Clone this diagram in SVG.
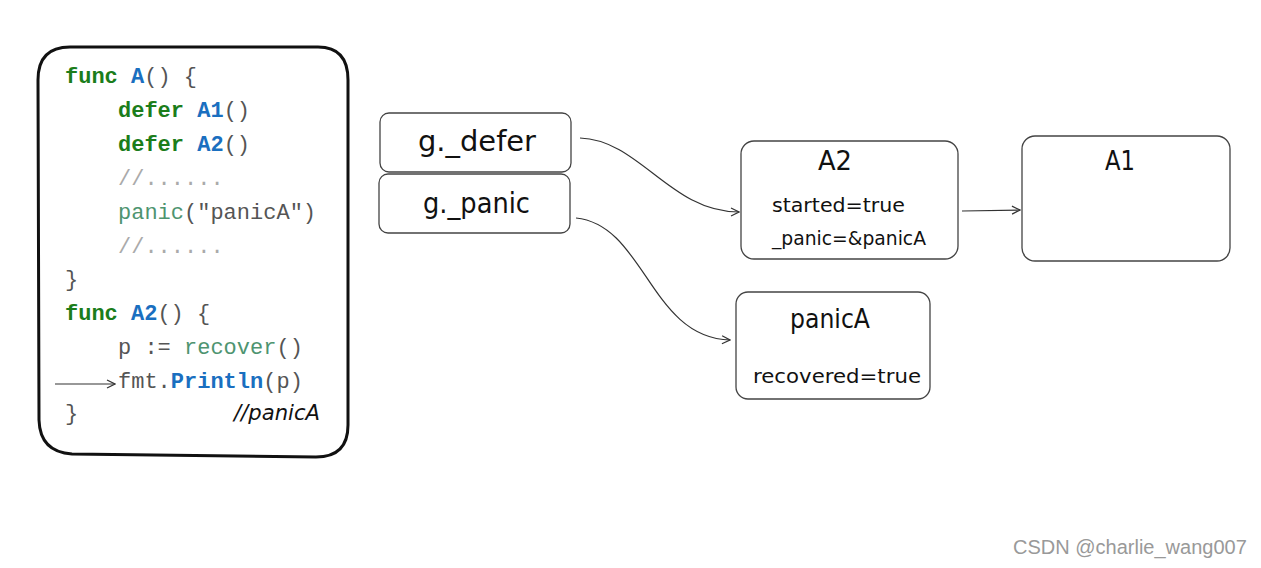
<svg xmlns="http://www.w3.org/2000/svg" width="1261" height="568" viewBox="0 0 1261 568">
<defs>
<style>
.code{font-family:"Liberation Mono","Courier New",monospace;font-size:22px;fill:#555}
.kw{fill:#1b7d1b;font-weight:bold}
.fn{fill:#1a6fc0;font-weight:bold}
.cm{fill:#aaa}
.rc{fill:#4e9470}
.hand{font-family:"DejaVu Sans","Liberation Sans",sans-serif;fill:#111}
.box{fill:#fff;stroke:#444;stroke-width:1.3}
.conn{fill:none;stroke:#333;stroke-width:1.2}
</style>
<marker id="arr" viewBox="0 0 10 10" refX="9" refY="5" markerWidth="10" markerHeight="10" markerUnits="userSpaceOnUse" orient="auto">
<path d="M1,1 L9,5 L1,9" fill="none" stroke="#333" stroke-width="1.2"/>
</marker>
</defs>
<rect width="1261" height="568" fill="#fff"/>

<g id="code-box">
<path d="M70,47 L318,47 Q348,47 348,80 L348,425 Q348,457 316,457 L72,454 Q40,452 39,420 L38,80 Q38,47 70,47 Z" fill="#fff" stroke="#111" stroke-width="3"/>
<text class="code" x="65" y="83"><tspan class="kw">func</tspan> <tspan class="fn">A</tspan>() {</text>
<text class="code" x="118" y="117"><tspan class="kw">defer</tspan> <tspan class="fn">A1</tspan>()</text>
<text class="code" x="118" y="151"><tspan class="kw">defer</tspan> <tspan class="fn">A2</tspan>()</text>
<text class="code cm" x="118" y="185">//......</text>
<text class="code" x="118" y="219"><tspan class="rc">panic</tspan>("panicA")</text>
<text class="code cm" x="118" y="253">//......</text>
<text class="code" x="65" y="286">}</text>
<text class="code" x="65" y="320"><tspan class="kw">func</tspan> <tspan class="fn">A2</tspan>() {</text>
<text class="code" x="118" y="354">p := <tspan class="rc">recover</tspan>()</text>
<text class="code" x="118" y="388">fmt.<tspan class="fn">Println</tspan>(p)</text>
<text class="code" x="65" y="420">}</text>
<text class="hand" x="234" y="420" font-size="21" font-style="italic" textLength="86" lengthAdjust="spacingAndGlyphs">//panicA</text>
<path class="conn" d="M55,384 L115,384" marker-end="url(#arr)"/>
</g>

<g id="g-defer">
<rect class="box" x="380" y="113" width="191" height="59" rx="9"/>
<text class="hand" x="418" y="151" font-size="28" textLength="118" lengthAdjust="spacingAndGlyphs">g._defer</text>
</g>
<g id="g-panic">
<rect class="box" x="379" y="174" width="191" height="59" rx="9"/>
<text class="hand" x="423" y="213" font-size="28" textLength="107" lengthAdjust="spacingAndGlyphs">g._panic</text>
</g>

<g id="A2">
<rect class="box" x="741" y="141" width="217" height="118" rx="13"/>
<text class="hand" x="818" y="170" font-size="26" textLength="34" lengthAdjust="spacingAndGlyphs">A2</text>
<text class="hand" x="772" y="212" font-size="20" textLength="133" lengthAdjust="spacingAndGlyphs">started=true</text>
<text class="hand" x="772" y="245" font-size="20" textLength="154" lengthAdjust="spacingAndGlyphs">_panic=&amp;panicA</text>
</g>

<g id="A1">
<rect class="box" x="1022" y="136" width="208" height="125" rx="13"/>
<text class="hand" x="1105" y="170" font-size="26" textLength="30" lengthAdjust="spacingAndGlyphs">A1</text>
</g>

<g id="panicA">
<rect class="box" x="736" y="292" width="194" height="107" rx="12"/>
<text class="hand" x="790" y="328" font-size="26" textLength="80" lengthAdjust="spacingAndGlyphs">panicA</text>
<text class="hand" x="753" y="383" font-size="20" textLength="168" lengthAdjust="spacingAndGlyphs">recovered=true</text>
</g>

<g id="connectors">
<path class="conn" d="M580,138 C640,140 670,212 739,212" marker-end="url(#arr)"/>
<path class="conn" d="M576,218 C645,225 650,338 730,340" marker-end="url(#arr)"/>
<path class="conn" d="M962,211 L1020,210" marker-end="url(#arr)"/>
</g>

<text x="1013" y="554" font-family="Liberation Sans, Arial, sans-serif" font-size="20" fill="#999">CSDN @charlie_wang007</text>
</svg>
